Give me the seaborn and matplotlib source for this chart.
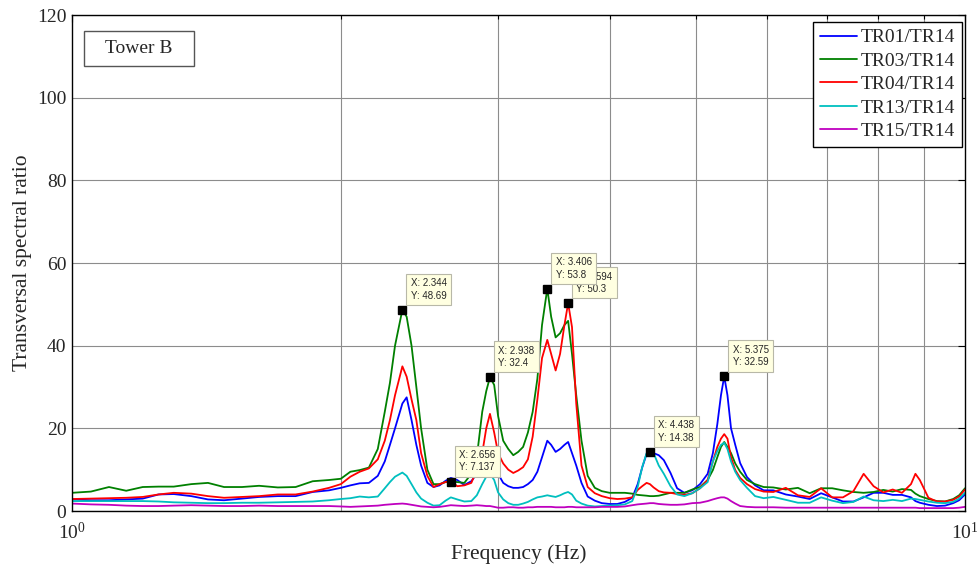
import matplotlib
matplotlib.use("Agg")
import matplotlib.pyplot as plt
from matplotlib.lines import Line2D
from matplotlib.patches import Rectangle
from matplotlib.ticker import LogLocator, NullFormatter, FixedLocator, FixedFormatter
import numpy as np
import pandas as pd
import seaborn as sns

# ---- data -----------------------------------------------------------------
freq = [1.00, 1.05, 1.10, 1.15, 1.20, 1.25, 1.30, 1.36, 1.42, 1.48,
        1.55, 1.62, 1.70, 1.78, 1.86, 1.94, 2.00, 2.05, 2.10, 2.15,
        2.20, 2.24, 2.27, 2.30, 2.344, 2.37, 2.40, 2.43, 2.46, 2.50,
        2.54, 2.58, 2.62, 2.656, 2.70, 2.75, 2.80, 2.84, 2.88, 2.91,
        2.938, 2.97, 3.00, 3.04, 3.08, 3.12, 3.16, 3.20, 3.24, 3.28,
        3.32, 3.36, 3.406, 3.44, 3.48, 3.52, 3.56, 3.594, 3.63, 3.67,
        3.72, 3.78, 3.85, 3.92, 4.00, 4.08, 4.16, 4.24, 4.30, 4.35,
        4.40, 4.438, 4.48, 4.54, 4.60, 4.68, 4.76, 4.85, 4.95, 5.05,
        5.15, 5.22, 5.28, 5.33, 5.375, 5.42, 5.47, 5.53, 5.60, 5.70,
        5.82, 5.95, 6.10, 6.30, 6.50, 6.70, 6.90, 7.10, 7.30, 7.50,
        7.70, 7.90, 8.10, 8.30, 8.50, 8.70, 8.80, 8.90, 9.10, 9.30,
        9.50, 9.70, 9.85, 10.0]

tr01 = [2.8, 2.6, 2.6, 2.8, 3.0, 4.0, 4.1, 3.6, 2.8, 2.6,
        3.0, 3.4, 3.6, 3.6, 4.6, 5.0, 5.6, 6.2, 6.7, 6.8,
        8.5, 12.0, 16.0, 20.0, 26.0, 27.5, 22.0, 16.0, 11.0, 6.8,
        5.8, 6.2, 7.3, 8.0, 7.5, 6.3, 7.2, 9.0, 12.5, 13.5,
        14.0, 12.5, 9.0, 6.8, 6.0, 5.6, 5.6, 5.8, 6.5, 7.5,
        9.5, 13.0, 17.0, 16.0, 14.3, 15.0, 16.0, 16.7, 14.0, 11.0,
        6.8, 3.5, 2.5, 1.9, 1.7, 1.7, 2.2, 3.2, 6.5, 10.5,
        13.8, 14.38, 14.0, 13.5, 12.3, 9.2, 5.5, 4.4, 5.0, 6.5,
        9.0, 14.0, 21.0, 28.0, 32.59, 28.0, 20.0, 16.0, 11.6, 8.2,
        6.2, 5.0, 5.0, 4.0, 3.5, 2.9, 4.3, 3.3, 2.3, 2.3,
        3.3, 4.4, 4.4, 3.9, 3.9, 3.3, 2.4, 2.0, 1.5, 1.2,
        1.3, 1.9, 2.6, 4.0]

tr03 = [4.4, 4.7, 5.8, 4.9, 5.8, 5.9, 5.9, 6.5, 6.8, 5.8,
        5.8, 6.1, 5.7, 5.8, 7.2, 7.5, 7.8, 9.5, 9.9, 10.5,
        15.0, 24.0, 31.0, 40.0, 48.69, 47.0, 40.0, 30.0, 20.0, 10.0,
        6.5, 6.5, 7.0, 7.137, 7.0, 6.8, 9.0, 13.0, 24.0, 29.0,
        32.4, 30.5, 23.0, 17.0, 15.0, 13.5, 14.3, 15.5, 19.0, 24.0,
        32.0, 45.0, 53.8, 47.0, 42.0, 43.0, 45.0, 46.0, 38.0, 28.0,
        17.0, 8.5, 5.6, 4.8, 4.4, 4.4, 4.4, 4.2, 3.9, 3.8,
        3.7, 3.6, 3.6, 3.7, 4.0, 4.4, 4.4, 4.4, 5.2, 5.8,
        7.5, 9.9, 13.0, 15.5, 16.7, 15.5, 14.0, 11.5, 9.5, 7.5,
        6.5, 5.8, 5.7, 5.2, 5.6, 4.3, 5.5, 5.5, 5.0, 4.6,
        4.4, 4.6, 5.1, 4.7, 5.3, 5.1, 4.2, 3.6, 2.9, 2.4,
        2.3, 2.9, 3.8, 5.5]

tr04 = [2.9, 3.0, 3.1, 3.2, 3.4, 4.0, 4.4, 4.2, 3.6, 3.2,
        3.4, 3.6, 4.0, 4.0, 4.7, 5.6, 6.5, 8.3, 9.5, 10.3,
        12.5, 17.0, 22.0, 28.0, 35.0, 32.5, 27.0, 22.0, 14.0, 8.5,
        5.8, 6.5, 7.0, 7.3, 6.0, 6.2, 6.8, 10.0, 14.0, 20.0,
        23.5, 19.0, 14.0, 11.5, 10.0, 9.2, 9.8, 10.6, 12.5, 18.0,
        27.0, 37.0, 41.4, 38.0, 34.0, 38.0, 45.0, 50.3, 44.5, 26.0,
        11.0, 5.8, 4.3, 3.6, 3.1, 2.9, 3.0, 3.3, 5.1, 6.0,
        6.8, 6.5, 5.7, 4.8, 4.5, 4.4, 4.1, 3.9, 4.3, 5.5,
        7.5, 12.0, 15.5, 17.5, 18.6, 17.5, 13.0, 9.9, 8.0, 6.5,
        5.3, 4.7, 4.6, 5.6, 3.8, 3.4, 5.5, 3.3, 3.3, 4.8,
        9.0, 6.0, 4.5, 5.2, 4.4, 6.5, 9.0, 7.5, 3.2, 2.3,
        2.3, 2.7, 3.5, 5.2]

tr13 = [2.4, 2.4, 2.4, 2.4, 2.4, 2.3, 2.1, 2.0, 1.9, 1.9,
        2.0, 2.0, 2.1, 2.2, 2.3, 2.6, 2.9, 3.1, 3.5, 3.3,
        3.5, 5.5, 7.0, 8.3, 9.3, 8.5, 6.5, 4.5, 3.0, 2.0,
        1.3, 1.4, 2.5, 3.3, 2.8, 2.3, 2.4, 3.8, 6.5, 8.3,
        9.0, 7.5, 4.5, 2.8, 1.9, 1.5, 1.5, 1.8, 2.2, 2.8,
        3.3, 3.5, 3.8, 3.6, 3.4, 3.8, 4.3, 4.6, 4.0, 2.5,
        1.8, 1.3, 1.1, 1.2, 1.3, 1.4, 1.6, 2.4, 5.8, 10.6,
        14.0, 14.2, 14.0, 11.0, 9.0, 6.0, 4.0, 3.6, 4.3, 5.5,
        7.0, 12.0, 14.5, 16.0, 16.5, 15.0, 12.0, 9.5, 7.5, 5.6,
        3.6, 3.1, 3.4, 2.7, 2.0, 2.0, 3.3, 2.5, 1.9, 2.2,
        3.5, 2.6, 2.4, 2.7, 2.4, 3.0, 2.9, 2.7, 2.3, 2.0,
        1.9, 2.2, 3.0, 4.4]

tr15 = [1.8, 1.6, 1.5, 1.3, 1.2, 1.2, 1.3, 1.4, 1.3, 1.2,
        1.2, 1.3, 1.2, 1.2, 1.2, 1.2, 1.1, 1.0, 1.1, 1.2,
        1.3, 1.5, 1.6, 1.7, 1.8, 1.7, 1.5, 1.3, 1.1, 1.0,
        0.9, 1.0, 1.2, 1.4, 1.3, 1.2, 1.3, 1.4, 1.3, 1.2,
        1.2, 1.0, 0.8, 0.8, 0.9, 0.9, 0.8, 0.8, 0.9, 0.9,
        1.0, 1.0, 1.0, 1.0, 0.9, 0.9, 0.9, 1.0, 1.0, 0.9,
        0.9, 0.9, 0.9, 1.0, 1.0, 1.0, 1.1, 1.4, 1.6, 1.7,
        1.8, 1.9, 1.9, 1.7, 1.6, 1.5, 1.5, 1.6, 1.9, 2.0,
        2.4, 2.8, 3.1, 3.3, 3.3, 3.0, 2.4, 1.8, 1.2, 1.0,
        0.9, 0.9, 0.9, 0.8, 0.8, 0.8, 0.8, 0.8, 0.8, 0.8,
        0.8, 0.8, 0.8, 0.8, 0.8, 0.8, 0.8, 0.7, 0.7, 0.7,
        0.7, 0.7, 0.8, 1.0]

series_names = ["TR01/TR14", "TR03/TR14", "TR04/TR14", "TR13/TR14", "TR15/TR14"]
series_values = [tr01, tr03, tr04, tr13, tr15]
series_colors = ["#0000ff", "#008000", "#ff0000", "#00bfbf", "#bf00bf"]

# data-cursor readouts (drawn in this order so later boxes sit on top)
tip_x = [2.344, 2.656, 2.938, 3.594, 3.406, 4.438, 5.375]
tip_y = [48.69, 7.137, 32.4, 50.3, 53.8, 14.38, 32.59]

y_ticks = [0, 20, 40, 60, 80, 100, 120]
x_ticks = [1, 10]
x_tick_labels = [r"$10^0$", r"$10^1$"]

# ---- figure ---------------------------------------------------------------
sns.set_style("white")
plt.rcParams["font.family"] = ["Liberation Serif", "DejaVu Serif"]
plt.rcParams["mathtext.fontset"] = "custom"
plt.rcParams["mathtext.rm"] = "Liberation Serif"
plt.rcParams["mathtext.it"] = "Liberation Serif:italic"

df = pd.DataFrame({
    "freq": np.tile(freq, len(series_names)),
    "ratio": np.concatenate(series_values),
    "pair": np.repeat(series_names, len(freq)),
})
palette = dict(zip(series_names, series_colors))

fig = plt.figure(figsize=(9.79, 5.68), dpi=100)
ax = fig.add_axes([72 / 979, 57 / 568, 893 / 979, 496 / 568])

sns.lineplot(data=df, x="freq", y="ratio", hue="pair", palette=palette,
             estimator=None, sort=False, linewidth=1.3, legend=False, ax=ax)

ax.set_xscale("log")
ax.set_xlim(1, 10)
ax.set_ylim(0, 120)

# grid: horizontal at major y ticks, vertical at the log minor ticks
ax.xaxis.set_major_locator(FixedLocator(x_ticks))
ax.xaxis.set_major_formatter(FixedFormatter(x_tick_labels))
ax.xaxis.set_minor_locator(LogLocator(base=10, subs=np.arange(2, 10)))
ax.xaxis.set_minor_formatter(NullFormatter())
ax.set_yticks(y_ticks)
ax.grid(True, which="major", axis="y", color="#8c8c8c", linewidth=0.8)
ax.grid(True, which="minor", axis="x", color="#8c8c8c", linewidth=0.8)
ax.set_axisbelow(True)

ax.tick_params(axis="both", which="both", direction="in", top=True, right=True,
               labelsize=14, width=0.8, color="black")
ax.tick_params(axis="both", which="major", length=5, pad=4)
ax.tick_params(axis="x", which="minor", length=3)
ax.tick_params(axis="x", which="major", pad=8)
for sp in ax.spines.values():
    sp.set_color("black")
    sp.set_linewidth(1.0)

ax.set_xlabel("Frequency (Hz)", fontsize=15.5, labelpad=1)
ax.set_ylabel("Transversal spectral ratio", fontsize=15.5, labelpad=3.5)

# data-cursor markers and readout boxes
for i, (tx, ty) in enumerate(zip(tip_x, tip_y)):
    ax.plot([tx], [ty], marker="s", markersize=6, color="black",
            linestyle="none", zorder=10 + 2 * i)
    ax.annotate(f"X: {tx:g}\nY: {ty:g}", xy=(tx, ty), xytext=(6, 6.5),
                textcoords="offset points", ha="left", va="bottom",
                fontsize=7, family=["Liberation Sans", "DejaVu Sans"],
                linespacing=1.3, zorder=11 + 2 * i,
                bbox=dict(boxstyle="square,pad=0.45", facecolor="#ffffe1",
                          edgecolor="#b8b8a8", linewidth=0.8))

# legend
handles = [Line2D([0], [0], color=c, linewidth=1.3) for c in series_colors]
leg = ax.legend(handles, series_names, loc="upper right",
                bbox_to_anchor=((962 - 72) / 893, (511 - 22) / 496),
                borderaxespad=0, fontsize=14, frameon=True, fancybox=False,
                edgecolor="black", framealpha=1, handlelength=1.9,
                handletextpad=0.2, labelspacing=0.3, borderpad=0.35)
leg.get_frame().set_linewidth(1.0)
leg.set_zorder(30)

# "Tower B" label box
ax.add_patch(Rectangle(((84 - 72) / 893, (511 - 66) / 496), 110 / 893, 35 / 496,
                       transform=ax.transAxes, facecolor="white",
                       edgecolor="#555555", linewidth=1.0, zorder=20))
ax.text((84 - 72 + 55) / 893, (511 - 48.5) / 496, "Tower B", transform=ax.transAxes,
        ha="center", va="center", fontsize=14, zorder=21)

fig.savefig("out.png", dpi=100, facecolor="white")
